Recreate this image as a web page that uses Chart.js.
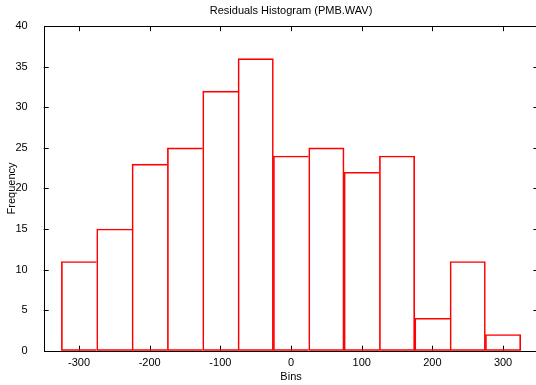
<!DOCTYPE html>
<html>
<head>
<meta charset="utf-8">
<script src="https://cdn.jsdelivr.net/npm/chart.js@4.4.0/dist/chart.umd.min.js"></script>
<style>
  html, body { margin: 0; padding: 0; background: #fff; overflow: hidden; }
  #wrap { width: 540px; height: 385px; }
</style>
</head>
<body>
<div id="wrap"><canvas id="hist" width="540" height="385"></canvas></div>
<script>
// bin centres and counts
var binCenters = [-300, -250, -200, -150, -100, -50, 0, 50, 100, 150, 200, 250, 300];
var binCounts  = [11, 15, 23, 25, 32, 36, 24, 25, 22, 24, 4, 11, 2];
var xTicks = [-300, -200, -100, 0, 100, 200, 300];
var yTicks = [0, 5, 10, 15, 20, 25, 30, 35, 40];

var FONT = 'Liberation Sans, Arial, Helvetica, sans-serif';

// gnuplot style: frame plus small tick marks pointing into the plot, on all four sides
var innerTicks = {
  id: 'innerTicks',
  beforeDatasetsDraw: function(chart) {
    var ctx = chart.ctx, a = chart.chartArea;
    var xs = chart.scales.x, ys = chart.scales.y;
    var len = 5;
    ctx.save();
    ctx.strokeStyle = '#000';
    ctx.lineWidth = 1;
    ctx.beginPath();
    xTicks.forEach(function(v) {
      var px = Math.round(xs.getPixelForValue(v)) + 0.5;
      ctx.moveTo(px, a.bottom); ctx.lineTo(px, a.bottom - len);
      ctx.moveTo(px, a.top); ctx.lineTo(px, a.top + len);
    });
    yTicks.forEach(function(v) {
      if (v === 0 || v === 40) return;
      var py = Math.round(ys.getPixelForValue(v)) + 0.5;
      ctx.moveTo(a.left, py); ctx.lineTo(a.left + len, py);
      ctx.moveTo(a.right, py); ctx.lineTo(a.right - len, py);
    });
    ctx.stroke();
    ctx.strokeRect(Math.round(a.left) + 0.5, Math.round(a.top) + 0.5,
                   Math.round(a.right - a.left), Math.round(a.bottom - a.top));
    ctx.restore();
  }
};

// shared edges of neighbouring bins drawn once, not twice
function edgeWidths(c) {
  var i = c.dataIndex;
  var last = i === binCounts.length - 1;
  var right = (last || binCounts[i + 1] < binCounts[i]) ? 1 : 0;
  return { left: 1, top: 1, bottom: 1, right: right };
}

new Chart(document.getElementById('hist'), {
  type: 'bar',
  data: {
    datasets: [{
      data: binCenters.map(function(c, i) { return { x: c, y: binCounts[i] }; }),
      backgroundColor: 'rgba(0,0,0,0)',
      borderColor: '#ff0000',
      borderWidth: edgeWidths,
      borderSkipped: false,
      barPercentage: 1,
      categoryPercentage: 1
    }]
  },
  options: {
    responsive: false,
    animation: false,
    layout: { padding: { left: 0, right: 1.6, top: 0, bottom: 0 } },
    plugins: {
      legend: { display: false },
      tooltip: { enabled: false },
      title: {
        display: true,
        fullSize: false,
        text: 'Residuals Histogram (PMB.WAV)',
        color: '#000',
        font: { family: FONT, size: 11, weight: 'normal' },
        padding: { top: 4, bottom: 9 }
      }
    },
    scales: {
      x: {
        type: 'linear',
        min: -350,
        max: 350,
        offset: false,
        grid: { display: false },
        border: { display: false },
        afterBuildTicks: function(s) { s.ticks = xTicks.map(function(v) { return { value: v }; }); },
        ticks: {
          color: '#000',
          font: { family: FONT, size: 11 },
          padding: -2,
          maxRotation: 0
        },
        title: {
          display: true,
          text: 'Bins',
          color: '#000',
          font: { family: FONT, size: 11 },
          padding: { top: 0, bottom: 1 }
        },
        afterFit: function(s) { s.height = 34.3; }
      },
      y: {
        min: 0,
        max: 40,
        grid: { display: false },
        border: { display: false },
        afterBuildTicks: function(s) { s.ticks = yTicks.map(function(v) { return { value: v }; }); },
        ticks: {
          color: '#000',
          font: { family: FONT, size: 11 },
          padding: 8
        },
        title: {
          display: true,
          text: 'Frequency',
          color: '#000',
          font: { family: FONT, size: 11 },
          padding: { top: 5, bottom: 0 }
        },
        afterFit: function(s) { s.width = 43.7; }
      }
    }
  },
  plugins: [innerTicks]
});
</script>
</body>
</html>
